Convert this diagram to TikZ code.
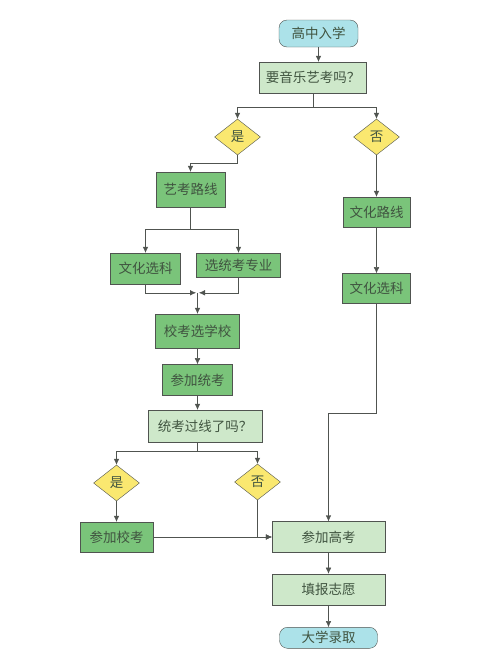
\documentclass[tikz,border=0pt]{standalone}
\usepackage{fontspec}
\newfontfamily\cjk{Noto Sans CJK SC}
\usetikzlibrary{positioning,arrows.meta,shapes.geometric}
\definecolor{startcyan}{RGB}{172,226,233}
\definecolor{paleleaf}{RGB}{206,232,202}
\definecolor{leaf}{RGB}{122,196,122}
\definecolor{lemon}{RGB}{250,232,112}
\definecolor{edge}{RGB}{80,84,80}
\definecolor{ink}{RGB}{64,84,64}
\tikzset{
  >={Latex[length=6pt,width=5.5pt]},
  line width = 1.1pt,
  every node/.style={font=\cjk\fontsize{13.5}{15}\selectfont, text=ink},
  terminal/.style={
    draw            = edge,
    fill            = startcyan,
    rounded corners = 8pt,
    inner sep       = 0pt},
  ask/.style={
    draw      = edge,
    fill      = paleleaf,
    inner sep = 0pt},
  stage/.style={
    draw      = edge,
    fill      = leaf,
    inner sep = 0pt},
  choice/.style={
    diamond,
    draw          = edge,
    fill          = lemon,
    inner sep     = 0pt,
    aspect        = 1.3,
    minimum width = 46pt,
    minimum height= 36pt}
}

\begin{document}
\begin{tikzpicture}[x=1pt,y=-1pt]
\useasboundingbox (0,0) rectangle (500,659);

\node[terminal, minimum width=79pt, minimum height=27pt] (start) at (318.5,33.5) {高中入学};
\node[ask, minimum width=107pt, minimum height=31pt] (q1) at (313,77.5) {要音乐艺考吗？};

\node[choice] (yes1) at (237.5,137) {是};
\node[choice] (no1)  at (376.5,137) {否};

\node[stage, minimum width=69pt, minimum height=35pt] (art) at (190.5,189.5) {艺考路线};
\node[stage, minimum width=70pt, minimum height=31pt] (subj) at (145.5,268.5) {文化选科};
\node[stage, minimum width=84pt, minimum height=24pt] (major) at (238.5,265) {选统考专业};

\node[stage, minimum width=84pt, minimum height=34pt] (school) at (197.5,331) {校考选学校};
\node[stage, minimum width=70pt, minimum height=31pt, below=16pt of school] (exam) {参加统考};
\node[ask, minimum width=114pt, minimum height=32pt] (q2) at (205,426) {统考过线了吗？};

\node[choice] (yes2) at (116.5,483) {是};
\node[choice] (no2)  at (257.5,482) {否};
\node[stage, minimum width=73pt, minimum height=30pt] (own) at (116.5,537) {参加校考};

\node[stage, minimum width=67pt, minimum height=30pt] (culture) at (376.5,212) {文化路线};
\node[stage, minimum width=68pt, minimum height=30pt, below=46pt of culture] (subj2) {文化选科};

\node[ask, minimum width=113pt, minimum height=31pt] (gaokao) at (328.5,537) {参加高考};
\node[ask, minimum width=113pt, minimum height=31pt, below=21pt of gaokao] (wish) {填报志愿};
\node[terminal, minimum width=98pt, minimum height=21pt, below=22pt of wish] (admit) {大学录取};

\coordinate[above=21pt of school.north] (merge);

\draw[->, draw=edge] (start) -- (start |- q1.north);
\draw[->, draw=edge] (q1.south) -- ++(0,14) -| (yes1.north);
\draw[->, draw=edge] (q1.south) -- ++(0,14) -| (no1.north);

\draw[->, draw=edge] (yes1.south) -- ++(0,8) -| (art.north);
\draw[->, draw=edge] (art.south) -- ++(0,22) -| (subj.north);
\draw[->, draw=edge] (art.south) -- ++(0,22) -| (major.north);
\draw[->, draw=edge, shorten >=1.5pt] (subj.south) |- (merge);
\draw[->, draw=edge, shorten >=1.5pt] (major.south) |- (merge);
\draw[->, draw=edge] (merge) -- (school.north);
\draw[->, draw=edge] (school) -- (exam);
\draw[->, draw=edge] (exam.south) -- (exam.south |- q2.north);

\draw[->, draw=edge] (exam.south |- q2.south) -- ++(0,9) -| (yes2.north);
\draw[->, draw=edge] (exam.south |- q2.south) -- ++(0,9) -| (no2.north);
\draw[->, draw=edge] (yes2) -- (own);
\draw[->, draw=edge] (own) -- (gaokao);
\draw[->, draw=edge] (no2.south) |- (gaokao.west);

\draw[->, draw=edge] (no1) -- (culture);
\draw[->, draw=edge] (culture) -- (subj2);
\draw[->, draw=edge] (subj2.south) -- ++(0,110) -| (gaokao.north);

\draw[->, draw=edge] (gaokao) -- (wish);
\draw[->, draw=edge] (wish) -- (admit);

\end{tikzpicture}
\end{document}
